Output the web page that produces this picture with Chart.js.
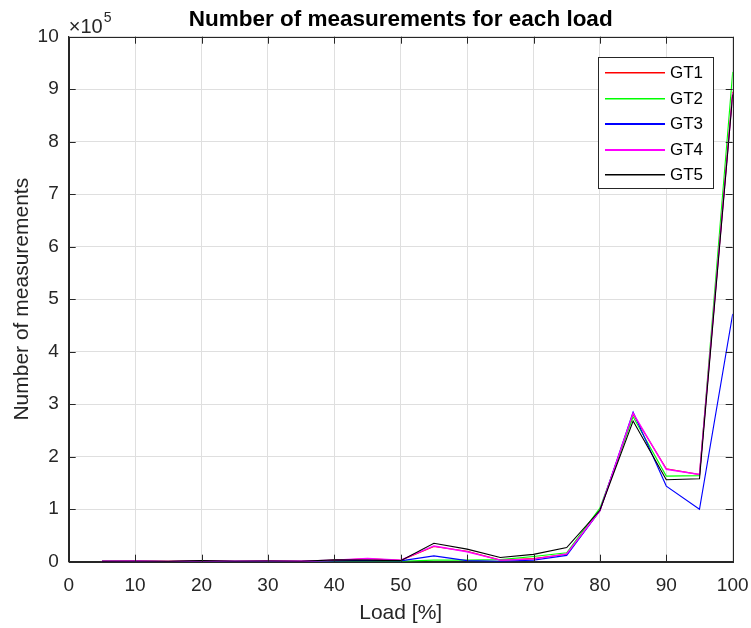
<!DOCTYPE html>
<html>
<head>
<meta charset="utf-8">
<script src="https://cdn.jsdelivr.net/npm/chart.js@4.4.0/dist/chart.umd.min.js"></script>
<style>
  html, body { margin: 0; padding: 0; background: #ffffff; }
  #wrap { width: 751px; height: 628px; }
</style>
</head>
<body>
<div id="wrap"><canvas id="chart" width="751" height="628"></canvas></div>
<script>
// Load levels in percent
const loads = [5, 10, 15, 20, 25, 30, 35, 40, 45, 50, 55, 60, 65, 70, 75, 80, 85, 90, 95, 100];

// Number of measurements recorded at each load, per gas turbine
const gt1 = [800, 1200, 600, 1500, 900, 1400, 700, 2500, 5500, 2500, 29000, 20000, 3000, 6000, 14000, 97000, 281000, 177000, 166000, 895000];
const gt2 = [500, 800, 400, 900, 600, 1000, 500, 1500, 2000, 1000, 3000, 3000, 4000, 10000, 17000, 102000, 276000, 163000, 164000, 933000];
const gt3 = [600, 900, 500, 1000, 700, 900, 600, 1500, 2500, 1500, 11000, 2000, 1000, 3000, 12000, 97000, 285000, 144000, 100000, 472000];
const gt4 = [900, 1300, 700, 1600, 1000, 1500, 800, 2800, 6000, 3000, 30000, 19000, 3000, 5000, 15000, 97000, 283000, 176000, 166000, 893000];
const gt5 = [700, 1000, 600, 2000, 1000, 1200, 900, 3500, 3000, 2000, 35000, 24000, 8000, 14000, 27000, 98000, 268000, 156000, 158000, 890000];

// Axis ticks
const xTicks = [0, 10, 20, 30, 40, 50, 60, 70, 80, 90, 100];
const yTicks = [0, 1, 2, 3, 4, 5, 6, 7, 8, 9, 10];
const yScaleFactor = 1e5;

const seriesNames = ['GT1', 'GT2', 'GT3', 'GT4', 'GT5'];
const seriesData = [gt1, gt2, gt3, gt4, gt5];
const seriesColors = ['#ff0000', '#00ff00', '#0000ff', '#ff00ff', '#000000'];

const AXIS_COLOR = '#262626';
const GRID_COLOR = '#dfdfdf';
const FONT = '"Liberation Sans", Arial, Helvetica, sans-serif';

const datasets = seriesNames.map((name, i) => ({
  label: name,
  data: loads.map((x, k) => ({ x: x, y: seriesData[i][k] })),
  borderColor: seriesColors[i],
  backgroundColor: seriesColors[i],
  borderWidth: i === 3 ? 1.4 : 1.1,
  pointRadius: 0,
  fill: false,
  tension: 0,
  // later series are painted on top
  order: seriesNames.length - i
}));

// Axes box, inward tick marks, titles, exponent and legend
const decorations = {
  id: 'decorations',
  afterDraw(chart) {
    const ctx = chart.ctx;
    const a = chart.chartArea;
    const xs = chart.scales.x, ys = chart.scales.y;
    ctx.save();

    // box
    ctx.strokeStyle = AXIS_COLOR;
    ctx.lineWidth = 1;
    ctx.strokeRect(Math.round(a.left) + 0.5, Math.round(a.top) + 0.5,
                   Math.round(a.right) - Math.round(a.left), Math.round(a.bottom) - Math.round(a.top));

    // inward ticks on all four sides
    const tl = 7;
    ctx.beginPath();
    xTicks.forEach(v => {
      const px = Math.round(xs.getPixelForValue(v)) + 0.5;
      ctx.moveTo(px, a.bottom); ctx.lineTo(px, a.bottom - tl);
      ctx.moveTo(px, a.top); ctx.lineTo(px, a.top + tl);
    });
    yTicks.forEach(v => {
      const py = Math.round(ys.getPixelForValue(v * yScaleFactor)) + 0.5;
      ctx.moveTo(a.left, py); ctx.lineTo(a.left + tl, py);
      ctx.moveTo(a.right, py); ctx.lineTo(a.right - tl, py);
    });
    ctx.stroke();

    ctx.fillStyle = '#000000';
    // title
    ctx.font = 'bold 22.5px ' + FONT;
    ctx.textAlign = 'center';
    ctx.textBaseline = 'alphabetic';
    ctx.fillText('Number of measurements for each load', (a.left + a.right) / 2, 26);

    ctx.fillStyle = AXIS_COLOR;
    // exponent
    ctx.font = '20px ' + FONT;
    ctx.textAlign = 'left';
    ctx.fillText('\u00d710', a.left, 33);
    const w = ctx.measureText('\u00d710').width;
    ctx.font = '14px ' + FONT;
    ctx.fillText('5', a.left + w + 1, 22);

    // axis titles
    ctx.font = '21px ' + FONT;
    ctx.textAlign = 'center';
    ctx.fillText('Load [%]', (a.left + a.right) / 2, 619);
    ctx.save();
    ctx.translate(28, (a.top + a.bottom) / 2);
    ctx.rotate(-Math.PI / 2);
    ctx.fillText('Number of measurements', 0, 0);
    ctx.restore();

    // legend
    const lx = 598, ly = 57, lw = 115, lh = 131;
    ctx.fillStyle = '#ffffff';
    ctx.fillRect(lx, ly, lw, lh);
    ctx.strokeStyle = AXIS_COLOR;
    ctx.lineWidth = 1;
    ctx.strokeRect(lx + 0.5, ly + 0.5, lw, lh);
    ctx.font = '17px ' + FONT;
    ctx.textAlign = 'left';
    ctx.textBaseline = 'middle';
    seriesNames.forEach((name, i) => {
      const y = Math.round(72 + i * 25.5);
      // legend sample as a filled strip of the series colour
      ctx.fillStyle = seriesColors[i];
      ctx.fillRect(605, y, 60, i === 2 || i === 3 ? 2 : 1.5);
      ctx.fillStyle = '#000000';
      ctx.fillText(name, 670, y + 1.5);
    });

    ctx.restore();
  }
};

new Chart(document.getElementById('chart'), {
  type: 'line',
  data: { datasets: datasets },
  options: {
    responsive: false,
    animation: false,
    devicePixelRatio: 1,
    layout: { padding: { left: 0, top: 36.7, right: 18.3, bottom: 0 } },
    plugins: {
      legend: { display: false },
      title: { display: false },
      tooltip: { enabled: false }
    },
    scales: {
      x: {
        type: 'linear',
        min: 0,
        max: 100,
        afterFit(scale) {
          scale.height = 66.3;
          scale.paddingLeft = 0;
          scale.paddingRight = 0;
        },
        afterBuildTicks(scale) { scale.ticks = xTicks.map(v => ({ value: v })); },
        grid: { color: GRID_COLOR, drawTicks: false, lineWidth: 1 },
        border: { display: true, color: AXIS_COLOR, width: 1 },
        ticks: {
          padding: 13,
          color: AXIS_COLOR,
          font: { family: FONT, size: 19 },
          maxRotation: 0,
          autoSkip: false
        }
      },
      y: {
        type: 'linear',
        min: 0,
        max: 10 * yScaleFactor,
        afterFit(scale) {
          scale.width = 68.7;
          scale.paddingTop = 0;
          scale.paddingBottom = 0;
        },
        afterBuildTicks(scale) { scale.ticks = yTicks.map(v => ({ value: v * yScaleFactor })); },
        grid: { color: GRID_COLOR, drawTicks: false, lineWidth: 1 },
        border: { display: true, color: AXIS_COLOR, width: 1 },
        ticks: {
          padding: 10,
          color: AXIS_COLOR,
          font: { family: FONT, size: 19 },
          autoSkip: false,
          callback: (v) => String(Math.round(v / yScaleFactor))
        }
      }
    }
  },
  plugins: [decorations]
});
</script>
</body>
</html>
